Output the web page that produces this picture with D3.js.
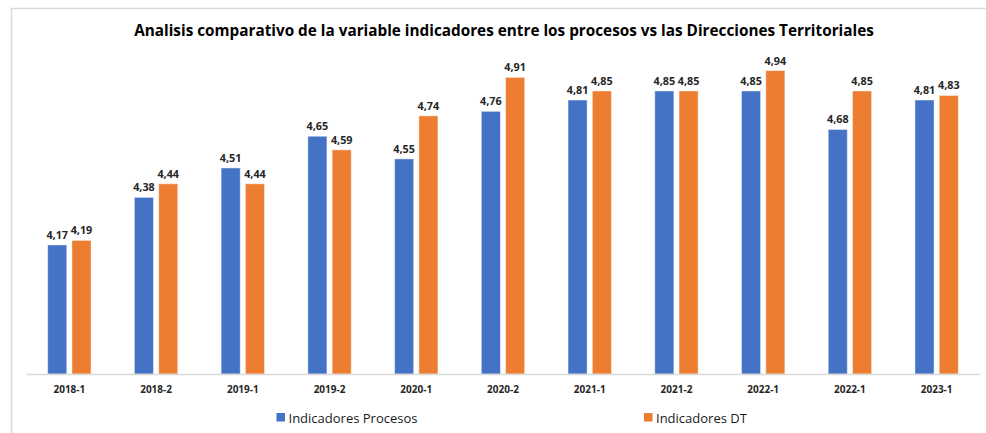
<!DOCTYPE html>
<html>
<head>
<meta charset="utf-8">
<script src="https://cdn.jsdelivr.net/npm/d3@7"></script>
<style>
  html, body { margin: 0; padding: 0; background: #fff; }
  svg { display: block; font-family: "Open Sans", "Liberation Sans", sans-serif; }
</style>
</head>
<body>
<svg id="chart" width="986" height="433"></svg>
<script>
// Periods on the x axis (the label 2022-1 appears twice in the source table)
const categories = ["2018-1", "2018-2", "2019-1", "2019-2", "2020-1", "2020-2",
                    "2021-1", "2021-2", "2022-1", "2022-1", "2023-1"];
const seriesNames = ["Indicadores Procesos", "Indicadores DT"];
const procesos = [4.17, 4.38, 4.51, 4.65, 4.55, 4.76, 4.81, 4.85, 4.85, 4.68, 4.81];
const direcciones = [4.19, 4.44, 4.44, 4.59, 4.74, 4.91, 4.85, 4.85, 4.94, 4.85, 4.83];
const colors = ["#4472C4", "#ED7D31"];
const titleText = "Analisis comparativo de la variable indicadores entre los procesos vs las Direcciones Territoriales";

const svg = d3.select("#chart");
const W = 986, H = 433;

// Chart frame
svg.append("path")
  .attr("d", `M11.5,${H} V8.5 H${W}`)
  .attr("fill", "none")
  .attr("stroke", "#d9d9d9")
  .attr("stroke-width", 1.5);

// Title
svg.append("text")
  .attr("x", 504).attr("y", 36)
  .attr("text-anchor", "middle")
  .attr("font-size", 15.3)
  .attr("font-weight", 700)
  .attr("fill", "#000")
  .text(titleText);

const plot = { left: 26, right: 980, top: 57, bottom: 374 };

const x = d3.scaleBand()
  .domain(d3.range(categories.length))
  .range([plot.left, plot.right])
  .padding(0);

const y = d3.scaleLinear()
  .domain([3.6, 5.0])
  .range([plot.bottom, plot.top]);

const bw = x.bandwidth();
const barW = bw * 0.22;
const gap = bw * 0.06;
const groupOffset = (bw - (2 * barW + gap)) / 2;

const series = [procesos, direcciones];
const fmt = v => d3.format(".2f")(v).replace(".", ",");

series.forEach((vals, s) => {
  const g = svg.append("g").attr("class", "series-" + s);
  const xi = i => x(i) + groupOffset + s * (barW + gap);
  g.selectAll("rect")
    .data(vals)
    .join("rect")
    .attr("x", (d, i) => xi(i))
    .attr("y", d => y(d))
    .attr("width", barW)
    .attr("height", d => plot.bottom - y(d))
    .attr("fill", colors[s])
    .attr("stroke", "#ffffff")
    .attr("stroke-opacity", 0.45)
    .attr("stroke-width", 1);
  g.selectAll("text")
    .data(vals)
    .join("text")
    .attr("x", (d, i) => xi(i) + barW / 2)
    .attr("y", d => y(d) - 6)
    .attr("text-anchor", "middle")
    .attr("font-size", 10.8)
    .attr("font-weight", 700)
    .attr("fill", "#262626")
    .text(d => fmt(d));
});

// X axis
const xAxis = svg.append("g")
  .attr("transform", `translate(0,${plot.bottom})`)
  .call(d3.axisBottom(x).tickSize(0).tickPadding(12).tickFormat(i => categories[i]));
xAxis.select(".domain").attr("stroke", "#d9d9d9").attr("stroke-width", 1.5);
xAxis.selectAll("text")
  .attr("font-family", "'Open Sans', sans-serif")
  .attr("font-size", 10)
  .attr("font-weight", 700)
  .attr("fill", "#262626");

// Legend
const legendX = [276.5, 644];
seriesNames.forEach((name, s) => {
  const lg = svg.append("g").attr("transform", `translate(${legendX[s]},413)`);
  lg.append("rect").attr("width", 8.5).attr("height", 8.5).attr("fill", colors[s]);
  lg.append("text")
    .attr("x", 12).attr("y", 9.5)
    .attr("font-size", 13)
    .attr("font-weight", 500)
    .attr("fill", "#1a1a1a")
    .text(name);
});
</script>
</body>
</html>
